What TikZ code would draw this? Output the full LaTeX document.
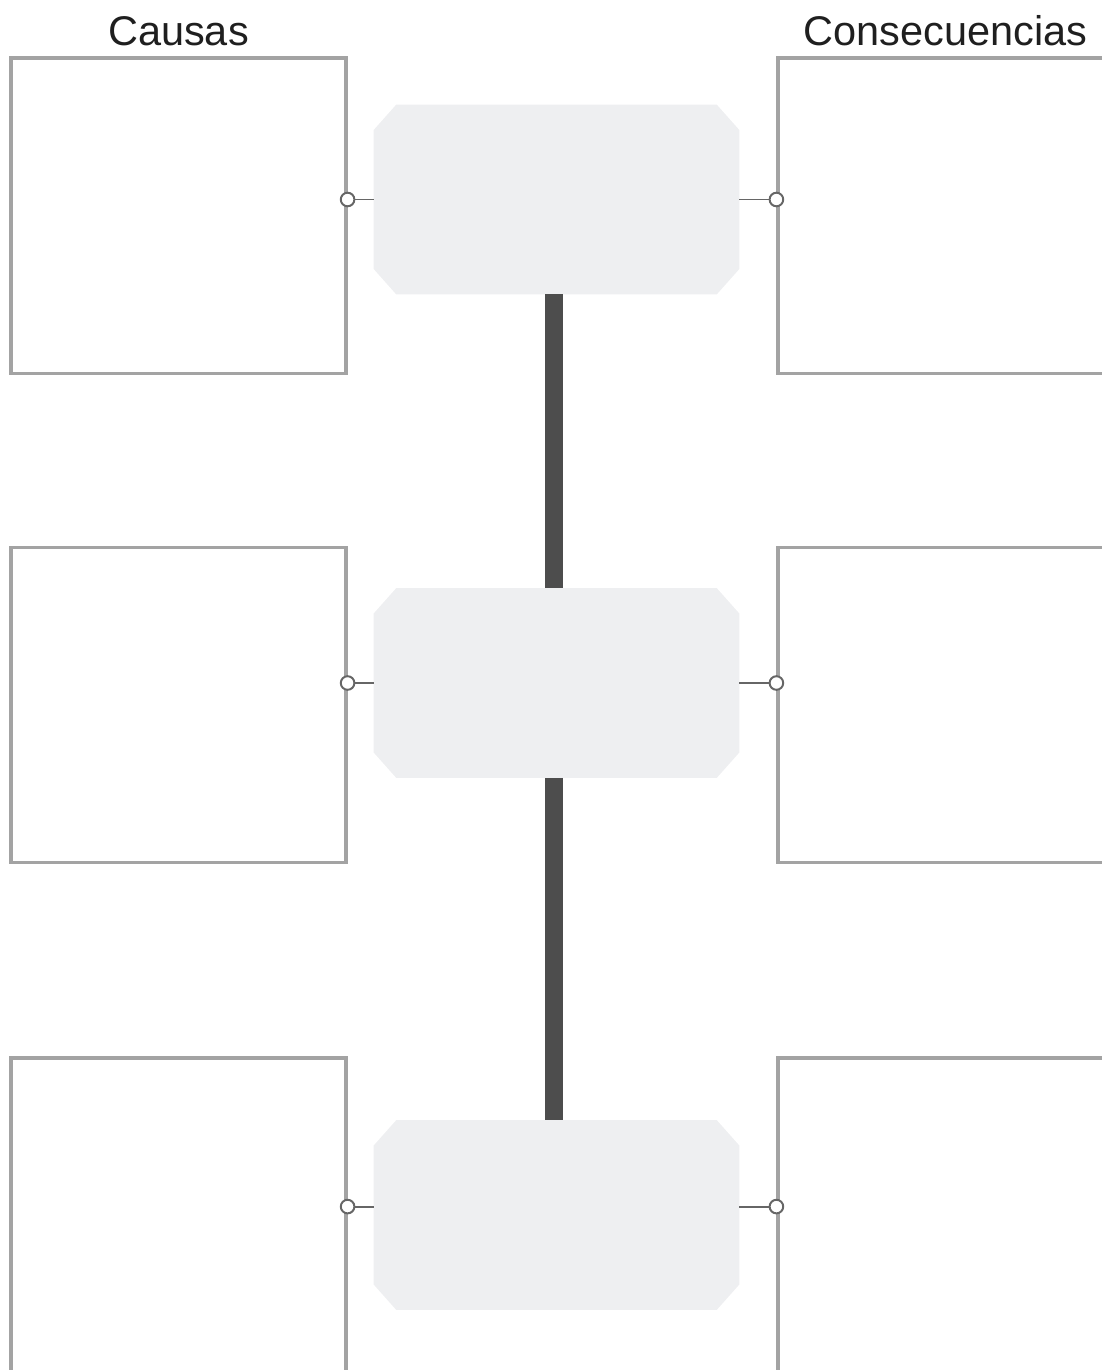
\documentclass[tikz,border=0pt]{standalone}
\usepackage{fontspec}
\setmainfont{Liberation Sans}
\usetikzlibrary{positioning}
\definecolor{cFrame}{HTML}{A3A3A3}
\definecolor{cEvent}{HTML}{EEEFF1}
\definecolor{cSpine}{HTML}{4D4D4D}
\definecolor{cJoint}{HTML}{666666}
\tikzset{
  frame/.style  ={draw=cFrame, line width=2.2pt, fill=white, minimum width=8.375cm, minimum height=7.875cm, inner sep=0pt},
  event/.style  ={rectangle, minimum width=9.125cm, minimum height=4.725cm, inner sep=0pt},
  spine/.style  ={line width=12.8pt, draw=cSpine},
  link/.style   ={line width=1.4pt, draw=cJoint},
  joint/.style  ={circle, draw=cJoint, line width=1.4pt, fill=white, minimum size=0.34cm, inner sep=0pt},
  heading/.style={font=\fontsize{29.5}{34}\selectfont, text=black!88, inner sep=0pt},
}

\begin{document}
\begin{tikzpicture}[x=0.025cm,y=-0.025cm]
  \path[use as bounding box, clip] (0,0) rectangle (1102,1370);
  % causes (left) and consequences (right)
  \node[frame] (l1) at (178.5,215.5) {};
  \node[frame] (l2) at (178.5,705)   {};
  \node[frame] (l3) at (178.5,1215.5){};
  \node[frame] (r1) at (945.5,215.5) {};
  \node[frame] (r2) at (945.5,705)   {};
  \node[frame] (r3) at (945.5,1215.5){};
  \node[heading, above=7pt of l1] (hc) {Causas};
  \node[heading, above=7pt of r1] (hq) {Consecuencias};
  % events in the middle, cut corners
  \node[event] (m1) at (556.5,199.5) {};
  \node[event] (m2) at (556.5,683)   {};
  \node[event] (m3) at (556.5,1215)  {};
  \foreach \i in {1,2,3}
    \fill[cEvent] ([xshift=16pt]m\i.north west) -- ([xshift=-16pt]m\i.north east)
      -- ([yshift=-18pt]m\i.north east) -- ([yshift=18pt]m\i.south east)
      -- ([xshift=-16pt]m\i.south east) -- ([xshift=16pt]m\i.south west)
      -- ([yshift=18pt]m\i.south west) -- ([yshift=-18pt]m\i.north west) -- cycle;
  \draw[spine] ([xshift=-2pt]m1.south) -- ([xshift=-2pt]m2.north);
  \draw[spine] ([xshift=-2pt]m2.south) -- ([xshift=-2pt]m3.north);
  % joints
  \foreach \i in {1,2}{
    \draw[link] (m\i.west) -- (m\i.west -| l\i.east) node[joint] (jl\i) {};
    \draw[link] (m\i.east) -- (m\i.east -| r\i.west) node[joint] (jr\i) {};
  }
  \draw[link] ([yshift=6pt]m3.west) -- ([yshift=6pt]m3.west -| l3.east) node[joint] (jl3) {};
  \draw[link] ([yshift=6pt]m3.east) -- ([yshift=6pt]m3.east -| r3.west) node[joint] (jr3) {};
\end{tikzpicture}
\end{document}
